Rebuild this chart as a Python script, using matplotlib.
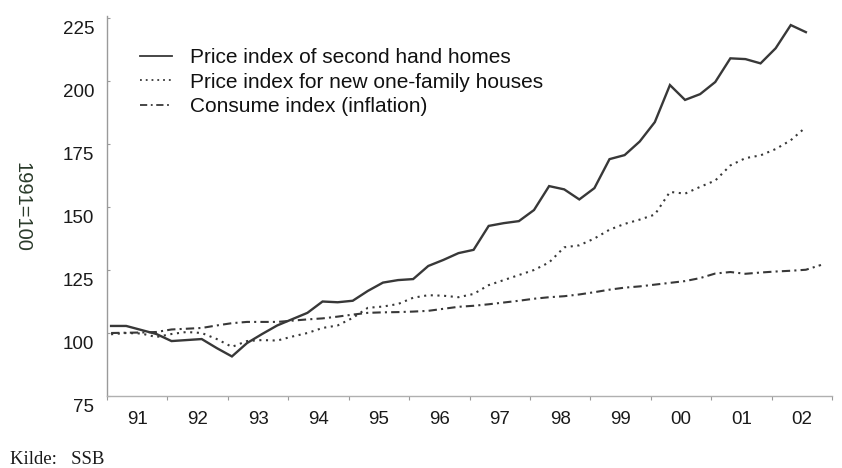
import numpy as np
import matplotlib
matplotlib.use("Agg")
import matplotlib.pyplot as plt
import matplotlib.transforms as mtransforms

# Quarterly index values, 1991 Q1 onwards (1991 = 100)
second_hand = [102.8, 102.8, 101.2, 99.6, 96.8, 97.2, 97.6, 94.0, 90.7, 96.0,
               99.6, 103.0, 105.5, 108.0, 112.5, 112.2, 112.8, 116.7, 120.0, 121.0,
               121.4, 126.6, 129.0, 131.7, 133.0, 142.5, 143.6, 144.4, 148.8, 158.3,
               157.0, 153.0, 157.5, 169.0, 170.6, 176.0, 183.7, 198.4, 192.5, 194.8,
               199.6, 209.0, 208.7, 207.0, 213.0, 222.2, 219.4]
new_houses = [99.5, 100.0, 99.8, 98.4, 99.6, 100.4, 100.0, 97.6, 94.5, 96.8,
              97.2, 97.0, 98.6, 100.0, 102.0, 103.0, 106.0, 110.0, 110.5, 111.5,
              114.0, 115.0, 114.8, 114.2, 115.5, 119.0, 121.0, 123.0, 125.0, 128.0,
              134.0, 134.8, 137.5, 141.0, 143.3, 145.0, 147.0, 156.0, 155.3, 158.0,
              160.5, 166.5, 169.4, 170.5, 173.0, 176.5, 181.7]
consumer = [100.0, 100.1, 100.2, 100.4, 101.4, 101.7, 102.0, 103.0, 103.9, 104.4,
            104.4, 104.4, 104.9, 105.4, 105.8, 106.5, 107.3, 108.0, 108.2, 108.3,
            108.5, 108.8, 109.6, 110.4, 110.8, 111.4, 112.1, 112.8, 113.6, 114.2,
            114.6, 115.3, 116.2, 117.2, 118.0, 118.5, 119.2, 119.9, 120.6, 121.8,
            123.6, 124.2, 123.5, 124.0, 124.4, 124.7, 125.1, 127.0]

series_labels = ["Price index of second hand homes",
                 "Price index for new one-family houses",
                 "Consume index (inflation)"]
year_labels = ["91", "92", "93", "94", "95", "96", "97", "98", "99", "00", "01", "02"]
start_year = 1991
y_ticks = [75, 100, 125, 150, 175, 200, 225]

def qx(n):
    q = np.arange(n)
    return start_year + (q + 0.27) / 4.0

fig = plt.figure(figsize=(8.42, 4.68), dpi=100)
fig.patch.set_facecolor("white")
ax = fig.add_axes([107 / 842, (468 - 396) / 468, (832 - 107) / 842, (396 - 15.5) / 468])
ax.set_facecolor("white")

line_col = "#383838"
l1, = ax.plot(qx(len(second_hand)), second_hand, color=line_col, lw=1.7,
              solid_joinstyle="miter", label=series_labels[0])
l2, = ax.plot(qx(len(new_houses)), new_houses, color=line_col, lw=1.5,
              linestyle=(0, (1, 2.2)), label=series_labels[1])
l3, = ax.plot(qx(len(consumer)), consumer, color=line_col, lw=1.5,
              linestyle=(0, (4, 2, 1, 2)), label=series_labels[2])

ax.set_xlim(start_year, start_year + len(year_labels))
ax.set_ylim(75, 226)

# axes styling
for s in ["top", "right"]:
    ax.spines[s].set_visible(False)
ax.spines["left"].set_color("#9a9a9a")
ax.spines["bottom"].set_color("#b0b0b0")
ax.spines["left"].set_linewidth(1.0)
ax.spines["bottom"].set_linewidth(1.0)

ax.set_yticks(y_ticks)
ax.set_yticklabels([str(v) for v in y_ticks], fontsize=13.5, color="#1a1a1a",
                   family=["Liberation Sans", "DejaVu Sans"])
ax.tick_params(axis="y", direction="in", length=2, color="#9a9a9a", pad=9)
offset = mtransforms.ScaledTranslation(0, -9 / 100, fig.dpi_scale_trans)
for lab in ax.get_yticklabels():
    lab.set_transform(lab.get_transform() + offset)

years = np.arange(start_year, start_year + len(year_labels) + 1)
ax.set_xticks(years)
ax.set_xticklabels([""] * len(years))
ax.tick_params(axis="x", which="major", direction="out", length=3, color="#9a9a9a")
ax.set_xticks(years[:-1] + 0.5, minor=True)
ax.set_xticklabels(year_labels, minor=True, fontsize=13.5, color="#1a1a1a",
                   family=["Liberation Sans", "DejaVu Sans"])
ax.tick_params(axis="x", which="minor", length=0, pad=11)

fig.text(22 / 842, 1 - 207 / 468, "1991=100", rotation=-90, ha="center", va="center",
         fontsize=14.5, color="#2a3a2a", family=["Liberation Sans", "DejaVu Sans"])

fig.text(10 / 842, 1 - 460 / 468, "Kilde:   SSB", ha="left", va="center",
         fontsize=13.5, color="#1a1a1a", family=["Liberation Serif", "DejaVu Serif"])

leg = ax.legend(handles=[l1, l2, l3], loc="upper left",
                bbox_to_anchor=(140 / 842, 1 - 48 / 468), bbox_transform=fig.transFigure,
                frameon=False, borderpad=0, borderaxespad=0, handlelength=1.55,
                handletextpad=0.85, labelspacing=0.27,
                prop={"family": ["Liberation Sans", "DejaVu Sans"], "size": 15})
for h in leg.get_lines():
    h.set_linewidth(1.3)
for t in leg.get_texts():
    t.set_color("#111111")

fig.savefig("out.png", dpi=100, facecolor="white")
